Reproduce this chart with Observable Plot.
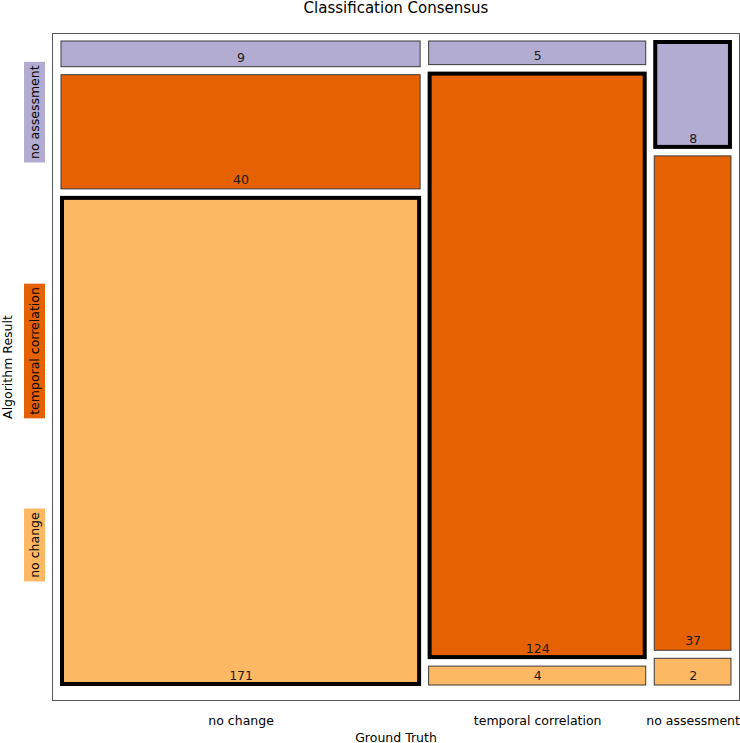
<!DOCTYPE html>
<html>
<head>
<meta charset="utf-8">
<script src="https://cdn.jsdelivr.net/npm/d3@7"></script>
<script src="https://cdn.jsdelivr.net/npm/@observablehq/plot@0.6"></script>
<style>
  html, body { margin: 0; padding: 0; background: #fff; overflow: hidden; }
  #chart svg { display: block; }
</style>
</head>
<body>
<div id="chart"></div>
<script>
// ---- data ----
const columns = ["no change", "temporal correlation", "no assessment"];      // Ground Truth
const rows = ["no change", "temporal correlation", "no assessment"];         // Algorithm Result, bottom -> top
const rowColors = ["#fdb863", "#e66101", "#b2abd2"];
const countsNoChange = [171, 40, 9];
const countsTemporal = [4, 124, 5];
const countsNoAssessment = [2, 37, 8];
const rowTickValues = [0.233, 0.524, 0.882];
const title = "Classification Consensus";
const xLabel = "Ground Truth";
const yLabel = "Algorithm Result";

// ---- mosaic layout (unit square) ----
const X0 = 0.0131, X1 = 0.9883, GX = 0.0124;
const Y0 = 0.0225, Y1 = 0.988, GY = 0.012;
const counts = [countsNoChange, countsTemporal, countsNoAssessment];
const total = d3.sum(counts.flat());
const availW = X1 - X0 - GX * (columns.length - 1);
const tiles = [];
const colCenters = [];
let cx = X0;
counts.forEach((colCounts, ci) => {
  const colTotal = d3.sum(colCounts);
  const w = availW * colTotal / total;
  colCenters.push(cx + w / 2);
  const availH = Y1 - Y0 - GY * (rows.length - 1);
  let cy = Y0;
  colCounts.forEach((n, ri) => {
    const h = availH * n / colTotal;
    tiles.push({col: columns[ci], row: rows[ri], count: n, x1: cx, x2: cx + w, y1: cy, y2: cy + h, diag: ci === ri});
    cy += h + GY;
  });
  cx += w + GX;
});
const colLabels = columns.map((c, i) => ({name: c, x: colCenters[i]}));
const rowLabels = rows.map((r, i) => ({name: r, y: rowTickValues[i]}));

const svg = Plot.plot({
  width: 740,
  height: 743,
  marginLeft: 52,
  marginRight: 1,
  marginTop: 33,
  marginBottom: 43,
  style: {fontFamily: "DejaVu Sans, sans-serif", fontSize: "12.5px", background: "#fff", color: "#000"},
  x: {domain: [0, 1], axis: null},
  y: {domain: [0, 1], axis: null},
  color: {domain: rows, range: rowColors},
  marks: [
    Plot.frame({stroke: "#555", strokeWidth: 1}),
    Plot.rect(tiles.filter(d => !d.diag), {x1: "x1", x2: "x2", y1: "y1", y2: "y2", fill: "row", stroke: "#3a3a3a", strokeWidth: 1}),
    Plot.rect(tiles.filter(d => d.diag), {x1: "x1", x2: "x2", y1: "y1", y2: "y2", fill: "row", stroke: "#000", strokeWidth: 4, inset: 1}),
    Plot.text(tiles, {x: d => (d.x1 + d.x2) / 2, y: "y1", text: d => String(d.count), dy: -9.5, lineAnchor: "middle", fill: "#1a1a1a", fontSize: 12.5}),
    Plot.text(colLabels, {x: "x", text: "name", frameAnchor: "bottom", dy: 20, lineAnchor: "middle", textAnchor: "middle", fontSize: 12.5}),
    Plot.text(rowLabels, {y: "y", text: "name", frameAnchor: "left", dx: -17.5, rotate: -90, lineAnchor: "middle", textAnchor: "middle", fontSize: 12.5, ariaDescription: "row labels"}),
    Plot.text([xLabel], {text: d => d, frameAnchor: "bottom", dy: 37, lineAnchor: "middle", textAnchor: "middle", fontSize: 12.5}),
    Plot.text([yLabel], {text: d => d, frameAnchor: "left", dx: -44.5, rotate: -90, lineAnchor: "middle", textAnchor: "middle", fontSize: 12.5}),
    Plot.text([title], {text: d => d, frameAnchor: "top", dy: -25, lineAnchor: "middle", textAnchor: "middle", fontSize: 15})
  ]
});
document.getElementById("chart").append(svg);

// colored boxes behind the row labels, sized from the rendered text
let rowTexts = [];
const g = svg.querySelector('g[aria-description="row labels"]');
if (g) rowTexts = Array.from(g.querySelectorAll("text"));
if (rowTexts.length !== rows.length) {
  rowTexts = Array.from(svg.querySelectorAll("text")).filter(t =>
    rows.includes(t.textContent) && (t.getAttribute("transform") || "").includes("rotate"));
}
rowTexts.forEach(t => {
  const i = rows.indexOf(t.textContent);
  const b = t.getBBox();
  const r = document.createElementNS("http://www.w3.org/2000/svg", "rect");
  r.setAttribute("x", b.x - 3.5);
  r.setAttribute("y", b.y - 3);
  r.setAttribute("width", b.width + 7);
  r.setAttribute("height", b.height + 6);
  r.setAttribute("fill", rowColors[i]);
  r.setAttribute("stroke", "none");
  const tr = t.getAttribute("transform");
  if (tr) r.setAttribute("transform", tr);
  t.parentNode.insertBefore(r, t);
});
</script>
</body>
</html>
